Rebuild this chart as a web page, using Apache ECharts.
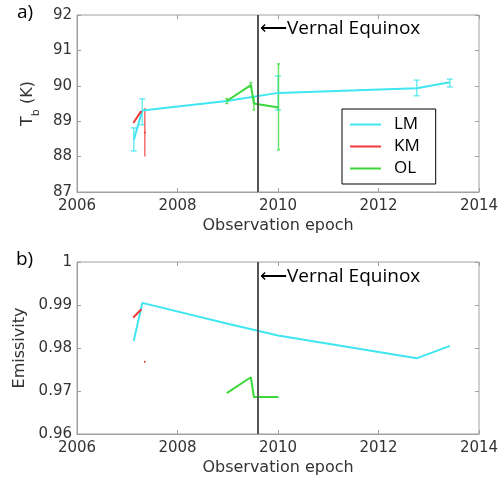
<!DOCTYPE html>
<html>
<head>
<meta charset="utf-8">
<script src="https://cdn.jsdelivr.net/npm/echarts@6/dist/echarts.min.js"></script>
<style>html,body{margin:0;padding:0;background:#fff}#c{width:503px;height:477px}</style>
</head>
<body>
<div id="c"></div>
<script>
// ---- data ----
const xTicks = [2006, 2008, 2010, 2012, 2014];
const tbTicks = [87, 88, 89, 90, 91, 92];
const emTicks = [0.96, 0.97, 0.98, 0.99, 1];
const equinoxYear = 2009.6;

const lmYear   = [2007.13, 2007.30, 2008.98, 2010.00, 2012.76, 2013.42];
const lmTb     = [88.47, 89.30, 89.57, 89.80, 89.93, 90.10];
const lmTbLow  = [88.16, 88.90, null, 89.32, 89.72, 89.97];
const lmTbHigh = [88.81, 89.63, null, 90.28, 90.16, 90.19];
const lmEm     = [0.9817, 0.9905, 0.9857, 0.9829, 0.9776, 0.9805];

const kmYear   = [2007.13, 2007.27, 2007.31, 2007.35];
const kmTb     = [88.97, 89.27, null, 88.68];
const kmTbLow  = [null, null, null, 88.00];
const kmTbHigh = [null, null, null, 89.37];
const kmEm     = [0.9872, 0.9889, null, 0.9768];

const olYear   = [2008.98, 2009.46, 2009.52, 2010.01];
const olTb     = [89.57, 90.02, 89.50, 89.39];
const olTbLow  = [89.50, 89.96, 89.32, 88.19];
const olTbHigh = [89.64, 90.09, 89.69, 90.62];
const olEm     = [0.9695, 0.9732, 0.9686, 0.9686];

// ---- styles ----
const C_LM = '#3fe6f0', C_KM = '#f03a3a', C_OL = '#3ad83a';
const tickFont = 'DejaVu Sans';
const boxColor = '#a0a0a0';

const pts = (xs, ys) => xs.map((x, i) => [x, ys[i] == null ? '-' : ys[i]]);
const bars = (xs, lo, hi) => xs.map((x, i) => [x, lo[i], hi[i]]).filter(d => d[1] != null);

function errRender(cap, color) {
  return function (params, api) {
    const x = api.value(0), lo = api.value(1), hi = api.value(2);
    const a = api.coord([x, lo]), b = api.coord([x, hi]);
    const style = { stroke: color, lineWidth: 1.5, opacity: 0.75 };
    const ch = [{ type: 'line', shape: { x1: a[0], y1: a[1], x2: b[0], y2: b[1] }, style }];
    if (cap > 0) {
      ch.push({ type: 'line', shape: { x1: a[0] - cap, y1: a[1], x2: a[0] + cap, y2: a[1] }, style });
      ch.push({ type: 'line', shape: { x1: b[0] - cap, y1: b[1], x2: b[0] + cap, y2: b[1] }, style });
    }
    return { type: 'group', children: ch };
  };
}

function xAx(gi, pos, show) {
  return {
    type: 'value', gridIndex: gi, position: pos, min: xTicks[0], max: xTicks[xTicks.length - 1], interval: 2,
    axisLine: { show: show, lineStyle: { color: boxColor } },
    axisTick: { show: true, inside: true, length: 4, lineStyle: { color: boxColor } },
    axisLabel: { show: show, margin: 7, color: '#333', fontFamily: tickFont, fontSize: 15, formatter: v => String(v) },
    splitLine: { show: false },
    name: show ? 'Observation epoch' : '', nameLocation: 'middle', nameGap: 26,
    nameTextStyle: { color: '#333', fontFamily: tickFont, fontSize: 16 }
  };
}
function yAx(gi, pos, show, ticks, name) {
  return {
    type: 'value', gridIndex: gi, position: pos, min: ticks[0], max: ticks[ticks.length - 1],
    interval: +(ticks[1] - ticks[0]).toFixed(4),
    axisLine: { show: show, lineStyle: { color: boxColor } },
    axisTick: { show: true, inside: true, length: 4, lineStyle: { color: boxColor } },
    axisLabel: { show: show, margin: 5, color: '#333', fontFamily: tickFont, fontSize: 15,
      formatter: v => String(+v.toFixed(2)) },
    splitLine: { show: false },
    name: show ? name : '', nameLocation: 'middle', nameRotate: 90,
    nameGap: gi === 0 ? 32 : 43,
    nameTextStyle: {
      color: '#333', fontFamily: tickFont, fontSize: 16,
      rich: {
        t: { fontFamily: tickFont, fontSize: 16, color: '#333', lineHeight: 22, verticalAlign: 'top' },
        s: { fontFamily: tickFont, fontSize: 11, color: '#333', lineHeight: 11, verticalAlign: 'bottom' }
      }
    }
  };
}

const chart = echarts.init(document.getElementById('c'), null, { renderer: 'canvas' });
const lineBase = { type: 'line', showSymbol: false, symbol: 'none', connectNulls: false, animation: false, z: 3 };
const eqLine = {
  silent: true, symbol: ['none', 'none'], label: { show: false },
  lineStyle: { color: '#555', width: 2, type: 'solid' },
  data: [{ xAxis: equinoxYear }]
};

const option = {
  animation: false,
  grid: [
    { left: 77, right: 24, top: 15, height: 177, show: true, borderColor: boxColor, borderWidth: 1 },
    { left: 77, right: 24, top: 262, height: 176, show: true, borderColor: boxColor, borderWidth: 1 }
  ],
  xAxis: [xAx(0, 'bottom', true), xAx(1, 'bottom', true), xAx(0, 'top', false), xAx(1, 'top', false)],
  yAxis: [
    yAx(0, 'left', true, tbTicks, '{t|T}{s|b}{t| (K)}'),
    yAx(1, 'left', true, emTicks, 'Emissivity'),
    yAx(0, 'right', false, tbTicks, ''),
    yAx(1, 'right', false, emTicks, '')
  ],
  legend: {
    show: true, orient: 'vertical', left: 342, top: 109,
    data: [{ name: 'LM', icon: 'rect' }, { name: 'KM', icon: 'rect' }, { name: 'OL', icon: 'rect' }],
    itemWidth: 31, itemHeight: 2, itemGap: 5,
    padding: [7, 16, 7, 8],
    borderColor: '#000', borderWidth: 1, backgroundColor: '#fff',
    textStyle: { fontFamily: 'Open Sans', fontSize: 17, color: '#000', lineHeight: 17, padding: [0, 0, 0, 8] }
  },
  series: [
    Object.assign({}, lineBase, { name: 'LM', xAxisIndex: 0, yAxisIndex: 0, data: pts(lmYear, lmTb), lineStyle: { color: C_LM, width: 2 }, itemStyle: { color: C_LM }, markLine: eqLine }),
    Object.assign({}, lineBase, { name: 'KM', xAxisIndex: 0, yAxisIndex: 0, data: pts(kmYear, kmTb), showSymbol: true, symbol: 'circle', symbolSize: 2, lineStyle: { color: C_KM, width: 2 }, itemStyle: { color: C_KM } }),
    Object.assign({}, lineBase, { name: 'OL', xAxisIndex: 0, yAxisIndex: 0, data: pts(olYear, olTb), lineStyle: { color: C_OL, width: 2 }, itemStyle: { color: C_OL } }),
    { type: 'custom', name: 'LM', xAxisIndex: 0, yAxisIndex: 0, data: bars(lmYear, lmTbLow, lmTbHigh), renderItem: errRender(3, C_LM), z: 2 },
    { type: 'custom', name: 'KM', xAxisIndex: 0, yAxisIndex: 0, data: bars(kmYear, kmTbLow, kmTbHigh), renderItem: errRender(0, C_KM), z: 2 },
    { type: 'custom', name: 'OL', xAxisIndex: 0, yAxisIndex: 0, data: bars(olYear, olTbLow, olTbHigh), renderItem: errRender(1.5, C_OL), z: 2 },

    Object.assign({}, lineBase, { name: 'LM', xAxisIndex: 1, yAxisIndex: 1, data: pts(lmYear, lmEm), lineStyle: { color: C_LM, width: 2 }, itemStyle: { color: C_LM }, markLine: eqLine }),
    Object.assign({}, lineBase, { name: 'KM', xAxisIndex: 1, yAxisIndex: 1, data: pts(kmYear, kmEm), showSymbol: true, symbol: 'circle', symbolSize: 2, lineStyle: { color: C_KM, width: 2 }, itemStyle: { color: C_KM } }),
    Object.assign({}, lineBase, { name: 'OL', xAxisIndex: 1, yAxisIndex: 1, data: pts(olYear, olEm), lineStyle: { color: C_OL, width: 2 }, itemStyle: { color: C_OL } })
  ]
};
chart.setOption(option);

// panel letters and equinox annotation
const ex0 = chart.convertToPixel({ xAxisIndex: 0 }, equinoxYear);
const ex1 = chart.convertToPixel({ xAxisIndex: 1 }, equinoxYear);
const annFont = { fontFamily: 'Open Sans', fontSize: 19, fill: '#000' };
chart.setOption({
  graphic: [
    { type: 'text', left: 17, top: 3, style: Object.assign({ text: 'a)' }, annFont) },
    { type: 'text', left: 16, top: 250, style: Object.assign({ text: 'b)' }, annFont) },
    { type: 'text', x: ex0 + 2, y: 29, style: Object.assign({ text: '\u27F5Vernal Equinox', verticalAlign: 'middle' }, annFont) },
    { type: 'text', x: ex1 + 2, y: 277, style: Object.assign({ text: '\u27F5Vernal Equinox', verticalAlign: 'middle' }, annFont) }
  ]
});
</script>
</body>
</html>
